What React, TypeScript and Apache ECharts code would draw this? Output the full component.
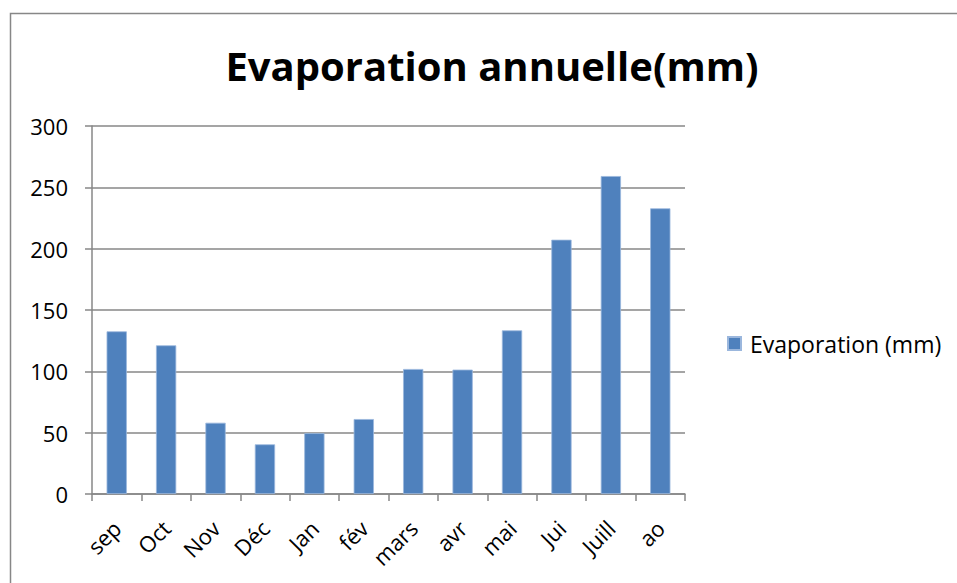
import React, { useEffect, useRef } from "react";
import * as echarts from "echarts";

const months = ["sep", "Oct", "Nov", "Déc", "Jan", "fév", "mars", "avr", "mai", "Jui", "Juill", "ao"];
const evaporation = [132.6, 121.2, 58.1, 40.5, 49.6, 61.1, 101.9, 101.4, 133.4, 207.3, 259.2, 232.9];
const yTicks = [0, 50, 100, 150, 200, 250, 300];

const FONT = "Open Sans";
const AXIS_GRAY = "#878787";

export default function App() {
  const ref = useRef<HTMLDivElement>(null);

  useEffect(() => {
    if (!ref.current) return;
    const chart = echarts.init(ref.current, null, { renderer: "svg" });
    chart.setOption({
      animation: false,
      backgroundColor: "#ffffff",
      textStyle: { fontFamily: FONT, color: "#000" },
      title: {
        text: "Evaporation annuelle(mm)",
        left: 487,
        top: 40,
        textAlign: "center",
        textStyle: { fontFamily: FONT, fontWeight: "bold", fontSize: 40, color: "#000" },
      },
      legend: {
        left: 722,
        top: 327,
        icon: "rect",
        itemWidth: 13,
        itemHeight: 13,
        textStyle: { fontFamily: FONT, fontSize: 23, color: "#000", lineHeight: 22, padding: [0, 0, 0, 4] },
        data: ["Evaporation (mm)"],
      },
      grid: { left: 92, top: 126, right: 272, bottom: 89, containLabel: false },
      xAxis: {
        type: "category",
        data: months,
        boundaryGap: true,
        axisLine: { show: true, lineStyle: { color: AXIS_GRAY, width: 1.5 } },
        axisTick: { show: true, alignWithLabel: false, length: 7, lineStyle: { color: AXIS_GRAY, width: 1.5 } },
        axisLabel: { rotate: 45, margin: 30, fontFamily: FONT, fontSize: 22, color: "#000", interval: 0 },
      },
      yAxis: {
        type: "value",
        min: yTicks[0],
        max: yTicks[yTicks.length - 1],
        interval: 50,
        axisLine: { show: true, lineStyle: { color: AXIS_GRAY, width: 1.5 } },
        axisTick: { show: true, length: 7, lineStyle: { color: AXIS_GRAY, width: 1.5 } },
        axisLabel: { margin: 24, fontFamily: FONT, fontSize: 22, color: "#000" },
        splitLine: { show: true, lineStyle: { color: AXIS_GRAY, width: 1.5 } },
      },
      series: [
        {
          name: "Evaporation (mm)",
          type: "bar",
          data: evaporation,
          barCategoryGap: "59%",
          itemStyle: { color: "#4F81BD", borderColor: "#9bb7dd", borderWidth: 0.8 },
        },
      ],
      graphic: [
        {
          type: "polyline",
          shape: { points: [[10.5, 600], [10.5, 13.5], [960, 13.5]] },
          style: { stroke: AXIS_GRAY, lineWidth: 1.5, fill: "none" },
          silent: true,
        },
      ],
    });
    return () => chart.dispose();
  }, []);

  return <div ref={ref} style={{ position: "fixed", left: 0, top: 0, width: 957, height: 583 }} />;
}
